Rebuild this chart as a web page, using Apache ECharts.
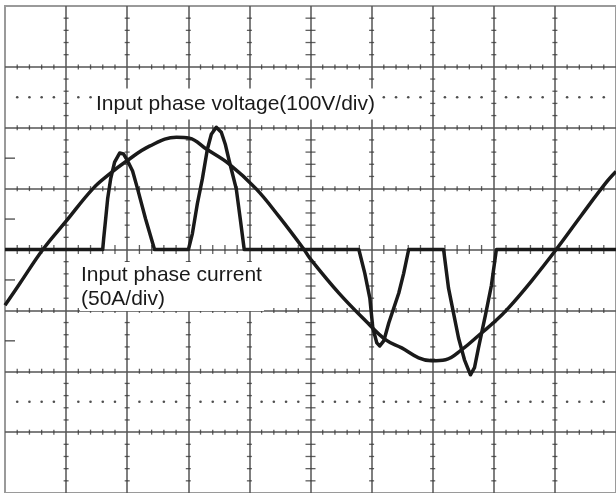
<!DOCTYPE html>
<html>
<head>
<meta charset="utf-8">
<script src="https://cdn.jsdelivr.net/npm/echarts@6/dist/echarts.min.js"></script>
<style>
html,body{margin:0;padding:0;background:#fff;}
#chart{width:616px;height:493px;}
</style>
</head>
<body>
<div id="chart"></div>
<script>
// Time axis in divisions (10 div), voltage 100 V/div, current 50 A/div
const voltageLabel = 'Input phase voltage(100V/div)';
const currentLabel = 'Input phase current\n(50A/div)';

// Input phase voltage [div, V]
const voltage = [
  [0, -91.4], [0.245, -55.5], [0.62, 0], [1.007, 47.3], [1.436, 99.6],
  [1.713, 124.1], [1.99, 145.3], [2.365, 169.8], [2.806, 184.5], [3.018, 182.9],
  [3.295, 165.0], [3.67, 140.4], [4.111, 99.6], [4.486, 53.9], [4.894, 0],
  [4.992, -14.7], [5.465, -71.8], [5.905, -117.6], [6.232, -148.6], [6.493, -161.6],
  [6.77, -177.9], [6.982, -182.9], [7.21, -181.2], [7.471, -164.9], [7.798, -137.1],
  [8.026, -117.6], [8.238, -96.3], [8.613, -52.2], [9.021, 0], [9.429, 55.5],
  [9.821, 107.8], [10, 128]
];

// Input phase current [div, A]
const currentPulse1 = [
  [0, 0], [1.599, 0], [1.615, 9.0], [1.648, 25.3], [1.680, 41.6], [1.729, 58.0],
  [1.794, 71.8], [1.876, 79.2], [1.941, 78.4], [2.007, 72.7], [2.088, 64.5],
  [2.170, 49.8], [2.300, 25.3], [2.447, 0]
];
const currentPulse2 = [
  [3.002, 0], [3.067, 13.1], [3.148, 37.6], [3.230, 58.0], [3.312, 82.4],
  [3.377, 94.7], [3.458, 100.4], [3.540, 96.3], [3.605, 86.5], [3.670, 72.7],
  [3.785, 49.8], [3.850, 25.3], [3.915, 0]
];
const currentPulse3 = [
  [5.791, 0], [5.889, -19.6], [5.971, -40.0], [6.020, -64.5], [6.085, -76.7],
  [6.134, -79.2], [6.199, -75.1], [6.281, -60.4], [6.444, -35.9],
  [6.525, -19.6], [6.607, 0]
];
const currentPulse4 = [
  [7.178, 0], [7.259, -31.8], [7.341, -52.2], [7.423, -72.7], [7.520, -90.6],
  [7.618, -102.9], [7.684, -97.1], [7.749, -80.8], [7.863, -53.9], [7.961, -29.4],
  [8.042, 0], [10, 0]
];
const current = currentPulse1.concat(currentPulse2, currentPulse3, currentPulse4);

// Scope graticule (in voltage-axis units)
const xDivs = 10, yMinV = -400, yMaxV = 400, vPerDiv = 100;
const minorPerDiv = 5;

const vTicksOnH = [], vTicksOnHCenter = [], hTicksOnV = [], hTicksOnVCenter = [], dots = [];
for (let gy = yMinV + vPerDiv; gy < yMaxV; gy += vPerDiv) {
  for (let k = 1; k < xDivs * minorPerDiv; k++) {
    if (k % minorPerDiv === 0) continue;
    (gy === 0 ? vTicksOnHCenter : vTicksOnH).push([k / minorPerDiv, gy]);
  }
}
for (let gx = 1; gx < xDivs; gx++) {
  for (let k = -19; k < 20; k++) {
    if (k % minorPerDiv === 0) continue;
    (gx === 5 ? hTicksOnVCenter : hTicksOnV).push([gx, k * vPerDiv / minorPerDiv]);
  }
}
[250, -250].forEach(function (gy) {
  for (let k = 1; k < xDivs * minorPerDiv; k++) {
    if (k % minorPerDiv === 0) continue;
    dots.push([k / minorPerDiv, gy]);
  }
});
const leftTicks = [[0, 150], [0, 50], [0, -50], [0, -150]];

const FONT = "'Liberation Sans', Arial, Helvetica, sans-serif";
const chart = echarts.init(document.getElementById('chart'));

function tickSeries(data, size, offset) {
  return {
    type: 'scatter', data: data, symbol: 'rect', symbolSize: size,
    symbolOffset: offset || [0, 0], silent: true, z: 1,
    itemStyle: { color: '#3a3a3a' }
  };
}

chart.setOption({
  animation: false,
  backgroundColor: '#fff',
  grid: {
    left: 5, top: 6, width: 613, height: 490,
    show: true, borderColor: '#9a9a9a', borderWidth: 2, backgroundColor: 'transparent'
  },
  xAxis: {
    type: 'value', min: 0, max: xDivs, interval: 1,
    axisLine: { show: false }, axisTick: { show: false }, axisLabel: { show: false },
    splitLine: { show: true, showMinLine: false, showMaxLine: false, lineStyle: { color: '#555', width: 1.5 } }
  },
  yAxis: [
    {
      type: 'value', min: yMinV, max: yMaxV, interval: vPerDiv,
      axisLine: { show: false }, axisTick: { show: false }, axisLabel: { show: false },
      splitLine: { show: true, showMinLine: false, showMaxLine: false, lineStyle: { color: '#555', width: 1.5 } }
    },
    {
      type: 'value', min: -200, max: 200, interval: 50, show: false,
      splitLine: { show: false }
    }
  ],
  series: [
    tickSeries(vTicksOnH, [1.3, 5]),
    tickSeries(vTicksOnHCenter, [1.3, 9]),
    tickSeries(hTicksOnV, [5, 1.3]),
    tickSeries(hTicksOnVCenter, [10, 1.3]),
    tickSeries(leftTicks, [10, 1.5], [5, 0]),
    {
      type: 'scatter', data: dots, symbol: 'circle', symbolSize: 2.6, silent: true, z: 1,
      itemStyle: { color: '#222' }
    },
    {
      name: 'Input phase voltage', type: 'line', yAxisIndex: 0, data: voltage,
      showSymbol: false, symbol: 'none', smooth: 0.4, z: 5,
      lineStyle: { color: '#1a1a1a', width: 3.5, join: 'round' }
    },
    {
      name: 'Input phase current', type: 'line', yAxisIndex: 1, data: current,
      showSymbol: false, symbol: 'none', smooth: false, z: 5,
      lineStyle: { color: '#1a1a1a', width: 3.5, join: 'round' }
    }
  ],
  graphic: [
    {
      type: 'text', x: 95, y: 104, z: 20,
      style: {
        text: voltageLabel, font: '21px ' + FONT, fill: '#1a1a1a',
        verticalAlign: 'middle', align: 'left',
        backgroundColor: '#fff', padding: [5, 3, 5, 1]
      }
    },
    {
      type: 'text', x: 80, y: 262, z: 20,
      style: {
        text: currentLabel, font: '21px ' + FONT, fill: '#1a1a1a',
        verticalAlign: 'top', align: 'left', lineHeight: 24,
        backgroundColor: '#fff', padding: [1, 2, 0, 1]
      }
    }
  ]
});
</script>
</body>
</html>
